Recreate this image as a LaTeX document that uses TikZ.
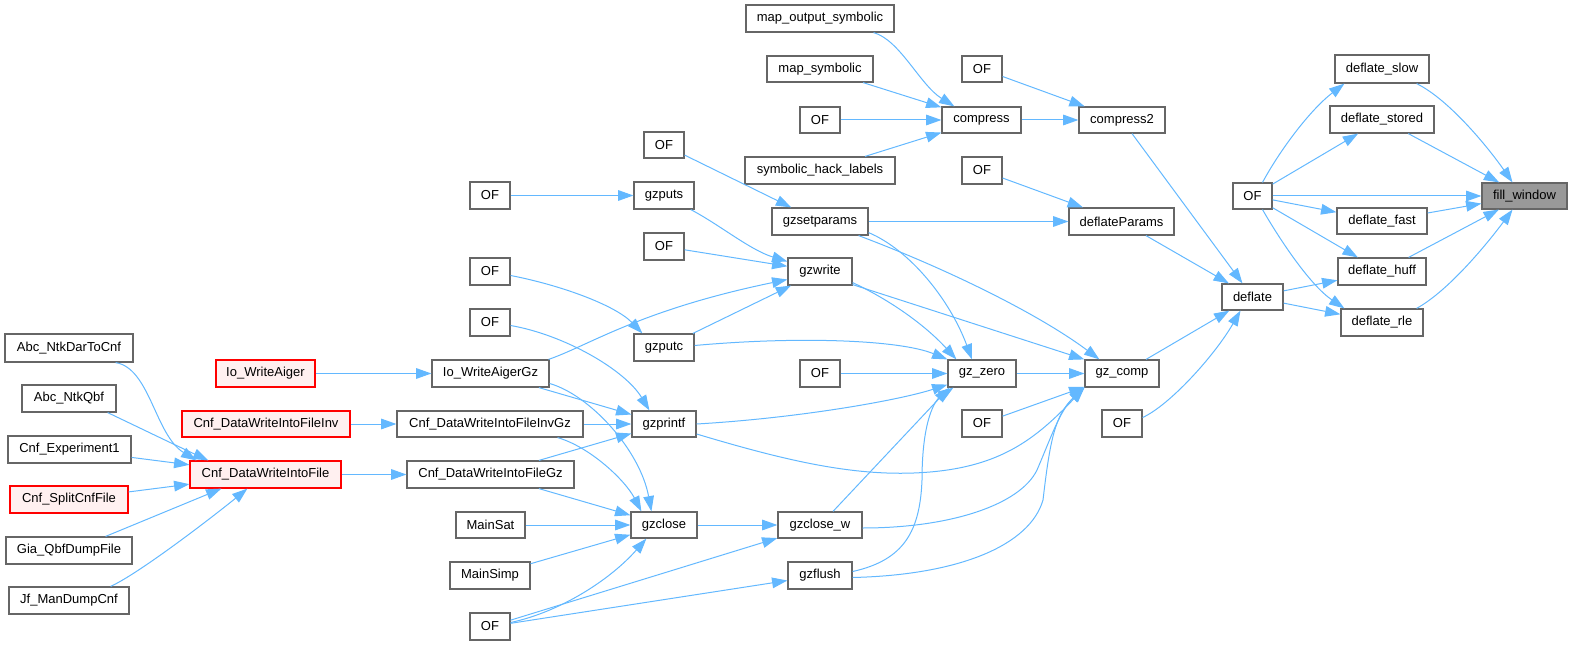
\documentclass[tikz,border=0pt]{standalone}
\usepackage{fontspec}
\setmainfont{Liberation Sans}
\usetikzlibrary{arrows.meta,calc}
\definecolor{edgeblue}{HTML}{63B8FF}
\definecolor{boxgray}{HTML}{666666}
\definecolor{redline}{HTML}{FF0000}
\definecolor{redfill}{HTML}{FFF0F0}
\definecolor{selfill}{HTML}{999999}
\tikzset{
  box/.style={draw=boxgray,fill=white,line width=0.9pt,inner sep=0pt,
    font=\fontsize{9.75}{11}\selectfont},
  redbox/.style={draw=redline,fill=redfill},
  selbox/.style={fill=selfill},
  e/.style={draw=edgeblue,line width=0.75pt,-{Triangle[length=11.5pt,width=8pt]}}
}
\newcommand\bx[7][]{\node[box,#1,minimum width={(#5-#3)*0.75pt},minimum height={(#6-#4)*0.75pt}] (#2) at ({(#3+#5)/2},{(#4+#6)/2}) {#7};}
\begin{document}
\begin{tikzpicture}[x=0.75pt,y=-0.75pt]
\useasboundingbox (0,0) rectangle (1573,645);
% column 1
\bx{abcdar}{5}{334}{133}{362}{Abc\_NtkDarToCnf}
\bx{abcqbf}{22}{385}{116}{412}{Abc\_NtkQbf}
\bx{cnfexp}{8}{436}{131}{463}{Cnf\_Experiment1}
\bx[redbox]{cnfsplit}{10}{486}{128}{513}{Cnf\_SplitCnfFile}
\bx{gia}{6}{537}{132}{564}{Gia\_QbfDumpFile}
\bx{jf}{9}{587}{129}{614}{Jf\_ManDumpCnf}
% column 2
\bx[redbox]{iowa}{216}{360}{315}{387}{Io\_WriteAiger}
\bx[redbox]{cnfinv}{182}{411}{350}{437}{Cnf\_DataWriteIntoFileInv}
\bx[redbox]{cnfdw}{190}{461}{341}{488}{Cnf\_DataWriteIntoFile}
% column 3
\bx{ofa}{470}{182}{510}{209}{OF}
\bx{ofb}{470}{258}{510}{285}{OF}
\bx{ofc}{470}{309}{510}{336}{OF}
\bx{iowgz}{432}{360}{549}{387}{Io\_WriteAigerGz}
\bx{invgz}{397}{411}{583}{437}{Cnf\_DataWriteIntoFileInvGz}
\bx{dwgz}{407}{461}{574}{488}{Cnf\_DataWriteIntoFileGz}
\bx{mainsat}{456}{512}{525}{538}{MainSat}
\bx{mainsimp}{450}{562}{530}{589}{MainSimp}
\bx{ofd}{470}{613}{510}{640}{OF}
% column 4
\bx{ofe}{644}{132}{684}{158}{OF}
\bx{gzputs}{634}{182}{694}{209}{gzputs}
\bx{off}{644}{233}{684}{260}{OF}
\bx{gzputc}{634}{334}{694}{361}{gzputc}
\bx{gzprintf}{632}{411}{696}{437}{gzprintf}
\bx{gzclose}{631}{512}{697}{538}{gzclose}
% column 5
\bx{mos}{746}{5}{894}{32}{map\_output\_symbolic}
\bx{ms}{767}{56}{873}{82}{map\_symbolic}
\bx{ofg}{800}{107}{840}{133}{OF}
\bx{shl}{745}{157}{895}{184}{symbolic\_hack\_labels}
\bx{gzsetparams}{772}{208}{868}{235}{gzsetparams}
\bx{gzwrite}{788}{258}{852}{285}{gzwrite}
\bx{ofh}{800}{360}{840}{387}{OF}
\bx{gzclosew}{778}{512}{862}{538}{gzclose\_w}
\bx{gzflush}{788}{562}{852}{589}{gzflush}
% column 6
\bx{ofi}{962}{56}{1002}{82}{OF}
\bx{compress}{942}{107}{1021}{133}{compress}
\bx{ofj}{962}{157}{1002}{184}{OF}
\bx{gzzero}{948}{360}{1016}{387}{gz\_zero}
\bx{ofk}{962}{410}{1002}{437}{OF}
% column 7
\bx{compress2}{1079}{107}{1165}{133}{compress2}
\bx{deflateparams}{1069}{208}{1174}{235}{deflateParams}
\bx{gzcomp}{1085}{360}{1159}{387}{gz\_comp}
\bx{ofl}{1102}{410}{1142}{437}{OF}
% column 8
\bx{ofm}{1233}{183}{1272}{209}{OF}
\bx{deflate}{1222}{284}{1283}{310}{deflate}
% column 9
\bx{dslow}{1335}{55}{1429}{83}{deflate\_slow}
\bx{dstored}{1330}{106}{1434}{133}{deflate\_stored}
\bx{dfast}{1337}{208}{1427}{234}{deflate\_fast}
\bx{dhuff}{1338}{258}{1426}{285}{deflate\_huff}
\bx{drle}{1341}{309}{1423}{336}{deflate\_rle}
% column 10
\bx[selbox]{fill}{1482}{183}{1567}{209}{fill\_window}

% edges: column 1 -> 2
\draw[e] ($(abcdar.south east)+(-18,0)$) .. controls (150,368) and (155,435) .. ($(cnfdw.north west)+(7,0)$);
\draw[e] ($(abcqbf.south east)+(-9,0)$) .. controls (140,428) and (175,445) .. ($(cnfdw.north west)+(19,0)$);
\draw[e] (cnfexp) -- (cnfdw);
\draw[e] (cnfsplit) -- (cnfdw);
\draw[e] ($(gia.north east)+(-27,0)$) -- ($(cnfdw.south west)+(32,0)$);
\draw[e] ($(jf.north east)+(-19,0)$) .. controls (140,573) and (215,515) .. ($(cnfdw.south west)+(58,0)$);
% column 2 -> 3
\draw[e] (iowa) -- (iowgz);
\draw[e] (cnfinv) -- (invgz);
\draw[e] (cnfdw) -- (dwgz);
% column 3 -> 4/5
\draw[e] ($(iowgz.north east)+(-1,0)$) .. controls (590,345) and (640,310) .. ($(gzwrite.west)+(0,8)$);
\draw[e] (iowgz) -- (gzprintf);
\draw[e] ($(iowgz.east)+(0,10)$) .. controls (590,395) and (640,450) .. ($(gzclose.north west)+(21,0)$);
\draw[e] (invgz) -- (gzprintf);
\draw[e] ($(invgz.south east)+(-26,0)$) .. controls (590,447) and (625,480) .. ($(gzclose.north west)+(11,0)$);
\draw[e] (dwgz) -- (gzprintf);
\draw[e] (dwgz) -- (gzclose);
\draw[e] (mainsat) -- (gzclose);
\draw[e] (mainsimp) -- (gzclose);
\draw[e] ($(ofd.east)+(0,-4)$) .. controls (560,612) and (610,580) .. ($(gzclose.south west)+(16,0)$);
\draw[e] (ofd) -- (gzclosew);
\draw[e] (ofd) -- (gzflush);
\draw[e] (ofa) -- (gzputs);
\draw[e] ($(ofb.east)+(0,4)$) .. controls (560,285) and (615,305) .. ($(gzputc.north west)+(9,0)$);
\draw[e] ($(ofc.east)+(0,3)$) .. controls (565,335) and (625,370) .. ($(gzprintf.north west)+(18,0)$);
% column 4 -> 5/6/7
\draw[e] (ofe) -- (gzsetparams);
\draw[e] (gzputs) .. controls (720,225) and (750,250) .. (gzwrite);
\draw[e] (off) -- (gzwrite);
\draw[e] (gzputc) -- (gzwrite);
\draw[e] ($(gzputc.east)+(0,-2)$) .. controls (800,336) and (900,340) .. (gzzero.north west);
\draw[e] (gzprintf.east) .. controls (800,418) and (900,400) .. ($(gzzero.south west)+(0,-3)$);
\draw[e] ($(gzprintf.east)+(0,10)$) .. controls (790,462) and (860,478) .. (930,472) .. controls (1000,466) and (1035,440) .. (gzcomp.south west);
\draw[e] (gzclose) -- (gzclosew);
% column 5 -> 6/7
\draw[e] ($(gzclosew.north)+(13,0)$) -- ($(gzzero.south west)+(2,0)$);
\draw[e] ($(gzclosew.east)+(0,3)$) .. controls (950,528) and (1020,505) .. (1037,470) .. controls (1050,440) and (1060,410) .. (gzcomp.south west);
\draw[e] ($(gzflush.east)+(0,-4)$) .. controls (905,560) and (920,530) .. (922,480) .. controls (922,420) and (935,400) .. ($(gzzero.south west)+(6,0)$);
\draw[e] ($(gzflush.east)+(0,2)$) .. controls (960,575) and (1030,545) .. (1043,500) .. controls (1050,440) and (1055,415) .. (gzcomp.south west);
\draw[e] (gzsetparams) -- (deflateparams);
\draw[e] ($(gzsetparams.south east)+(0,-3)$) .. controls (910,250) and (950,300) .. ($(gzzero.north)+(-10,0)$);
\draw[e] ($(gzsetparams.south east)+(-10,0)$) .. controls (950,270) and (1040,315) .. ($(gzcomp.north west)+(15,0)$);
\draw[e] ($(gzwrite.south east)+(0,-3)$) .. controls (890,300) and (925,325) .. ($(gzzero.north west)+(9,0)$);
\draw[e] ($(gzwrite.south east)+(0,-1)$) -- (gzcomp.north west);
\draw[e] (ofh) -- (gzzero);
\draw[e] ($(mos.south east)+(-21,0)$) .. controls (900,40) and (920,85) .. ($(compress.north west)+(13,0)$);
\draw[e] (ms) -- (compress);
\draw[e] (ofg) -- (compress);
\draw[e] (shl) -- (compress);
% column 6 -> 7
\draw[e] (compress) -- (compress2);
\draw[e] (ofi) -- (compress2);
\draw[e] (ofj) -- (deflateparams);
\draw[e] (gzzero) -- (gzcomp);
\draw[e] (ofk) -- (gzcomp);
% column 7 -> 8
\draw[e] (compress2) -- (deflate);
\draw[e] (deflateparams) -- (deflate);
\draw[e] (gzcomp) -- (deflate);
\draw[e] ($(ofl.east)+(0,-6)$) .. controls (1170,405) and (1215,355) .. ($(deflate.south)+(-12,0)$);
% column 8 -> 9/10
\draw[e] (deflate) -- (dhuff);
\draw[e] (deflate) -- (drle);
\draw[e] ($(ofm.north)+(10,0)$) .. controls (1280,150) and (1310,110) .. ($(dslow.south west)+(10,0)$);
\draw[e] (ofm) -- (dstored);
\draw[e] (ofm) -- (fill);
\draw[e] (ofm) -- (dfast);
\draw[e] (ofm) -- (dhuff);
\draw[e] ($(ofm.south)+(10,0)$) .. controls (1280,240) and (1310,285) .. ($(drle.north west)+(4,0)$);
% column 9 -> 10
\draw[e] ($(dslow.south east)+(-13,0)$) .. controls (1450,100) and (1490,150) .. ($(fill.north)+(-12,0)$);
\draw[e] (dstored) -- (fill);
\draw[e] (dfast) -- (fill);
\draw[e] (dhuff) -- (fill);
\draw[e] ($(drle.north east)+(-7,0)$) .. controls (1450,290) and (1490,240) .. ($(fill.south)+(-12,0)$);
\end{tikzpicture}
\end{document}
